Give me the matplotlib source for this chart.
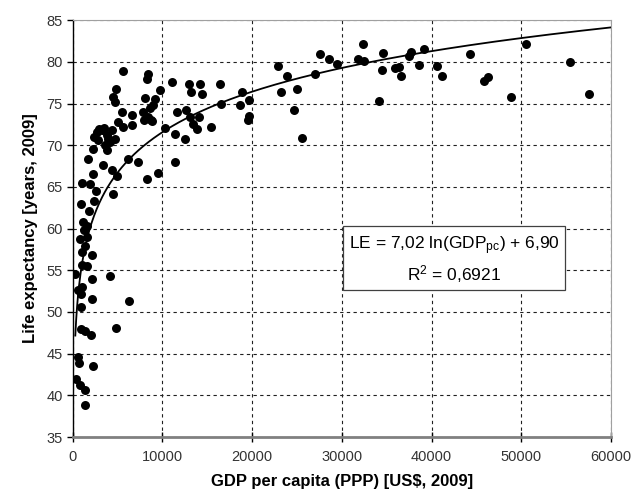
import numpy as np
import matplotlib
matplotlib.use("Agg")
import matplotlib.pyplot as plt

plt.rcParams['font.family'] = ['Liberation Sans', 'DejaVu Sans']
plt.rcParams['mathtext.fontset'] = 'custom'
plt.rcParams['mathtext.rm'] = 'Liberation Sans'
plt.rcParams['mathtext.it'] = 'Liberation Sans'

# GDP per capita (PPP, US$ 2009) and life expectancy (years)
gdp = [650, 760, 2250, 350, 830, 1390, 1390,
       950, 1390, 2060, 4840, 950, 6300,
       2200, 650, 1090, 950, 280, 2140, 4170,
       1020, 1580, 1090, 2200, 1390, 830, 1580,
       1310, 1580, 1200, 1840, 950, 2430, 4470,
       2580, 1090, 1950, 2320, 4920, 8260, 9500,
       4360, 3430, 1760, 6210, 7250, 2250,
       2690, 3250, 3800, 4360, 4730, 2880, 3620, 3800, 2430, 4170, 3000, 3500, 4000,
       5650, 8440, 8260, 4810, 4540, 4730, 8070, 9000, 9740, 5470, 6580, 7880,
       8440, 8890, 7990, 5100, 5650, 6660, 8600, 8700, 9200,
       11040, 13000, 14190, 13150, 14380, 16420, 11590, 12700, 13080, 14110,
       13450, 13820, 15380, 10300, 11410, 12520, 11410, 16600, 18900, 19680,
       18640, 19500, 19680,
       22900, 23900, 23280, 25060, 24690, 25620, 27070, 27620, 28580, 29510,
       31810, 32440, 32370, 34150, 34480, 34560, 35890, 36340, 36560, 37450,
       37750, 39120, 38600, 40600, 41160, 44320, 45840, 46280, 48880, 50550,
       55480, 57600]
le = [44.6, 43.9, 43.5, 42.0, 41.3, 40.6, 38.8,
      48.0, 47.7, 47.2, 48.1, 50.6, 51.3,
      51.6, 52.6, 53.0, 52.1, 54.5, 53.9, 54.3,
      55.6, 55.5, 57.2, 56.8, 57.9, 58.8, 59.0,
      59.8, 60.3, 60.8, 62.1, 63.0, 63.3, 64.1,
      64.5, 65.5, 65.4, 66.5, 66.3, 66.0, 66.7,
      67.0, 67.6, 68.4, 68.3, 68.0, 69.6,
      71.6, 71.8, 71.2, 71.8, 70.8, 70.6, 70.0, 69.4, 71.0, 70.4, 72.0, 72.1, 70.8,
      78.9, 78.5, 78.0, 76.8, 75.8, 75.2, 75.7, 74.8, 76.6, 74.0, 73.6, 74.0,
      73.4, 72.9, 73.0, 72.8, 72.2, 72.4, 74.5, 73.0, 75.5,
      77.6, 77.3, 77.4, 76.4, 76.2, 77.3, 74.0, 74.2, 73.4, 73.4,
      72.6, 72.0, 72.2, 72.1, 71.3, 70.7, 68.0, 75.0, 76.4, 75.4,
      74.8, 73.0, 73.5,
      79.5, 78.3, 76.4, 76.8, 74.2, 70.9, 78.6, 80.9, 80.4, 79.7,
      80.3, 80.1, 82.2, 75.3, 79.0, 81.1, 79.3, 79.4, 78.3, 80.7,
      81.2, 81.6, 79.6, 79.5, 78.3, 80.9, 77.7, 78.2, 75.8, 82.1,
      80.0, 76.1]

# logarithmic trend line from the chart
a, b = 7.02, 6.90
x_fit = np.linspace(310, 60000, 600)
y_fit = a * np.log(x_fit) + b

fig = plt.figure(figsize=(6.35, 5.01), dpi=100)
ax = fig.add_axes([0.1142, 0.1277, 0.848, 0.832])

ax.scatter(gdp, le, s=42, color='black', zorder=3, linewidths=0)
ax.plot(x_fit, y_fit, color='black', lw=1.3, zorder=4)

ax.set_xlim(0, 60000)
ax.set_ylim(35, 85)
ax.set_xticks(range(0, 60001, 10000))
ax.set_yticks(range(35, 86, 5))
ax.grid(True, color='#202020', linestyle=(0, (3, 3)), linewidth=0.8)
ax.set_axisbelow(True)

for s in ['top', 'right']:
    ax.spines[s].set_color('#a0a0a0')
    ax.spines[s].set_linewidth(0.8)
ax.spines['left'].set_color('black')
ax.spines['left'].set_linewidth(1.0)
ax.spines['bottom'].set_color('#808080')
ax.spines['bottom'].set_linewidth(2.0)

ax.tick_params(axis='y', direction='out', length=4, width=1, color='black',
               labelsize=10.5, labelcolor='#333333', pad=3)
ax.tick_params(axis='x', direction='inout', length=7, width=1, color='black',
               labelsize=10.5, labelcolor='#333333', pad=6)

ax.set_xlabel('GDP per capita (PPP) [US$, 2009]', fontsize=12,
              fontweight='bold', labelpad=7)
ax.set_ylabel('Life expectancy [years, 2009]', fontsize=12,
              fontweight='bold', labelpad=6)

ax.text(42500, 56.3, 'LE = 7,02 ln(GDP$_{\\rm pc}$) + 6,90\nR$^2$ = 0,6921',
        ha='center', va='center', fontsize=12.5, linespacing=1.35, zorder=5,
        bbox=dict(boxstyle='square,pad=0.3', facecolor='white',
                  edgecolor='#404040', linewidth=0.9))

fig.savefig('out.png', dpi=100)
